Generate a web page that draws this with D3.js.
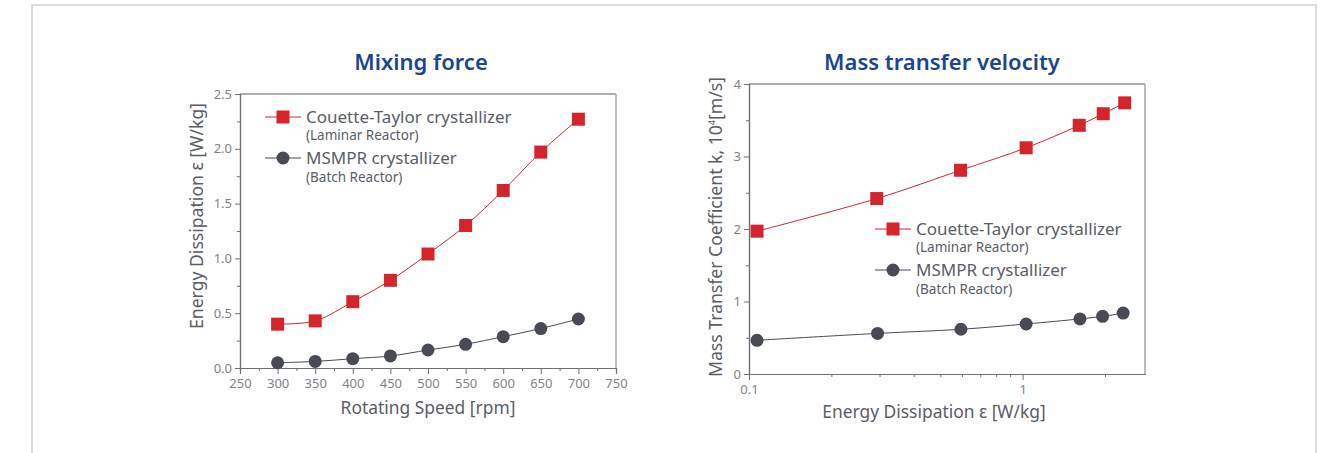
<!DOCTYPE html>
<html><head><meta charset="utf-8">
<script src="https://cdn.jsdelivr.net/npm/d3@7"></script>
<style>
body{margin:0;background:#fff;}
text{font-family:"Noto Sans","Open Sans",sans-serif;}
</style></head>
<body>
<svg id="c" width="1328" height="453"></svg>
<script>
// ---- Data ----
const speeds = [300, 350, 400, 450, 500, 550, 600, 650, 700];
const ctEnergy = [0.40, 0.43, 0.605, 0.80, 1.04, 1.30, 1.62, 1.97, 2.27];
const msmprEnergy = [0.048, 0.06, 0.085, 0.11, 0.164, 0.216, 0.286, 0.36, 0.447];

const ctDissipation = [0.107, 0.293, 0.593, 1.03, 1.61, 1.97, 2.36];
const ctMassTransfer = [1.97, 2.42, 2.81, 3.12, 3.43, 3.59, 3.74];
const msmprDissipation = [0.107, 0.295, 0.595, 1.03, 1.62, 1.96, 2.33];
const msmprMassTransfer = [0.465, 0.56, 0.617, 0.69, 0.76, 0.795, 0.84];

const leftXTicks = [250, 300, 350, 400, 450, 500, 550, 600, 650, 700, 750];
const leftYTicks = [0.0, 0.5, 1.0, 1.5, 2.0, 2.5];
const rightXTicks = [0.1, 1];
const rightYTicks = [0, 1, 2, 3, 4];

const titles = ["Mixing force", "Mass transfer velocity"];
const seriesNames = ["Couette-Taylor crystallizer", "MSMPR crystallizer"];
const seriesSubs = ["(Laminar Reactor)", "(Batch Reactor)"];

const RED = "#d5252c", DARK = "#484b55", AX = "#6e7179", TXT = "#5a5d66", TITLE = "#1b4590";

const svg = d3.select("#c");
// outer frame
svg.append("rect").attr("x",32).attr("y",5).attr("width",1284).attr("height",470)
  .attr("fill","none").attr("stroke","#dcdcdc").attr("stroke-width",2);

function drawPanel(o){
  const g = svg.append("g");
  const x = o.x, y = o.y;
  const [x0,x1] = x.range(), [y0,y1] = y.range();
  // frame top & right
  g.append("line").attr("x1",x0).attr("x2",x1).attr("y1",y1).attr("y2",y1).attr("stroke","#5b5e66").attr("stroke-width",1);
  g.append("line").attr("x1",x1).attr("x2",x1).attr("y1",y1).attr("y2",y0).attr("stroke","#b9bbc0").attr("stroke-width",2);
  // axes
  g.append("g").attr("transform",`translate(0,${y0})`).call(o.xAxis);
  g.append("g").attr("transform",`translate(${x0},0)`).call(o.yAxis);
  // minor ticks
  g.append("g").attr("transform",`translate(0,${y0})`).call(o.xMinor);
  g.append("g").attr("transform",`translate(${x0},0)`).call(o.yMinor);
  g.selectAll(".domain").attr("stroke",AX).attr("stroke-width",1.2);
  g.selectAll(".tick line").attr("stroke",AX);
  g.selectAll(".tick text").attr("fill","#80838a").style("font-size","13px").style("font-family","\"Noto Sans\",sans-serif");
  // title
  g.append("text").attr("x",o.titleX).attr("y",o.titleY).attr("text-anchor","middle")
    .attr("fill",TITLE).style("font-size","22px").style("font-weight","600").text(o.title);
  // axis labels
  g.append("text").attr("x",o.xLabX).attr("y",o.xLabY).attr("text-anchor","middle")
    .attr("fill",TXT).style("font-size","17.4px").text(o.xLab);
  const yl = g.append("text").attr("transform",`translate(${o.yLabX},${o.yLabY}) rotate(-90)`)
    .attr("text-anchor","middle").attr("fill",TXT).style("font-size","17.6px");
  o.yLab(yl);
  // series
  const line = d3.line().curve(d3.curveCatmullRom.alpha(0.5)).x(d=>x(d[0])).y(d=>y(d[1]));
  const s1 = o.s1, s2 = o.s2;
  g.append("path").datum(s2).attr("d",line).attr("fill","none").attr("stroke",DARK).attr("stroke-width",1);
  g.append("path").datum(s1).attr("d",line).attr("fill","none").attr("stroke",RED).attr("stroke-width",1);
  g.selectAll(".c").data(s2).enter().append("circle").attr("cx",d=>x(d[0])).attr("cy",d=>y(d[1])).attr("r",6.5).attr("fill",DARK);
  g.selectAll(".s").data(s1).enter().append("rect").attr("x",d=>x(d[0])-6.5).attr("y",d=>y(d[1])-6.5)
    .attr("width",13).attr("height",13).attr("fill",RED);
  // legend
  const L = o.leg;
  const lg = g.append("g").attr("transform",`translate(${L[0]},${L[1]})`);
  lg.append("line").attr("x1",-18).attr("x2",18).attr("y1",0).attr("y2",0).attr("stroke",RED).attr("stroke-width",1);
  lg.append("rect").attr("x",-6.5).attr("y",-6.5).attr("width",13).attr("height",13).attr("fill",RED);
  lg.append("text").attr("x",23).attr("y",6).attr("fill",TXT).style("font-size",o.legFs+"px").text(seriesNames[0]);
  lg.append("text").attr("x",23).attr("y",23).attr("fill",TXT).style("font-size","13.5px").text(seriesSubs[0]);
  lg.append("line").attr("x1",-18).attr("x2",18).attr("y1",o.legGap).attr("y2",o.legGap).attr("stroke",DARK).attr("stroke-width",1);
  lg.append("circle").attr("cx",0).attr("cy",o.legGap).attr("r",6.5).attr("fill",DARK);
  lg.append("text").attr("x",23).attr("y",o.legGap+6).attr("fill",TXT).style("font-size",o.legFs+"px").text(seriesNames[1]);
  lg.append("text").attr("x",23).attr("y",o.legGap+24).attr("fill",TXT).style("font-size","13.5px").text(seriesSubs[1]);
}

// Left panel
const xL = d3.scaleLinear().domain([250,750]).range([240,616]);
const yL = d3.scaleLinear().domain([0,2.5]).range([368,94]);
drawPanel({
  x:xL, y:yL,
  xAxis: d3.axisBottom(xL).tickValues(leftXTicks).tickSize(6).tickPadding(5).tickFormat(d3.format("d")),
  yAxis: d3.axisLeft(yL).tickValues(leftYTicks).tickSize(5).tickPadding(3).tickFormat(d3.format(".1f")),
  xMinor: g=>g.call(d3.axisBottom(xL).tickValues(d3.range(275,750,50)).tickSize(3).tickFormat("")),
  yMinor: g=>g.call(d3.axisLeft(yL).tickValues(d3.range(0.25,2.5,0.5)).tickSize(3).tickFormat("")),
  title:titles[0], titleX:421, titleY:70,
  xLab:"Rotating Speed [rpm]", xLabX:428, xLabY:414,
  yLabX:203, yLabY:216,
  yLab: t=>t.text("Energy Dissipation ε [W/kg]"),
  s1: speeds.map((d,i)=>[d,ctEnergy[i]]),
  s2: speeds.map((d,i)=>[d,msmprEnergy[i]]),
  leg:[283,117], legGap:41, legFs:17
});

// Right panel
const xR = d3.scaleLog().domain([0.1,2.8]).range([749,1145]);
const yR = d3.scaleLinear().domain([0,4]).range([374,84]);
const minorLog = [0.2,0.3,0.4,0.5,0.6,0.7,0.8,0.9,2];
drawPanel({
  x:xR, y:yR,
  xAxis: d3.axisBottom(xR).tickValues(rightXTicks).tickSize(6).tickSizeOuter(0).tickPadding(5).tickFormat(d=>String(d)),
  yAxis: d3.axisLeft(yR).tickValues(rightYTicks).tickSize(5).tickPadding(3).tickFormat(d3.format("d")),
  xMinor: g=>g.call(d3.axisBottom(xR).tickValues(minorLog).tickSize(3).tickSizeOuter(0).tickFormat("")),
  yMinor: g=>g.call(d3.axisLeft(yR).tickValues(d3.range(0.5,4,1)).tickSize(3).tickFormat("")),
  title:titles[1], titleX:942, titleY:70,
  xLab:"Energy Dissipation ε [W/kg]", xLabX:934, xLabY:418,
  yLabX:722, yLabY:227,
  yLab: t=>{ t.append("tspan").text("Mass Transfer Coefficient k, 10");
             t.append("tspan").attr("dy",-7).style("font-size","9px").text("4");
             t.append("tspan").attr("dy",7).text("[m/s]"); },
  s1: ctDissipation.map((d,i)=>[d,ctMassTransfer[i]]),
  s2: msmprDissipation.map((d,i)=>[d,msmprMassTransfer[i]]),
  leg:[893,229], legGap:41, legFs:17
});
</script>
</body></html>
